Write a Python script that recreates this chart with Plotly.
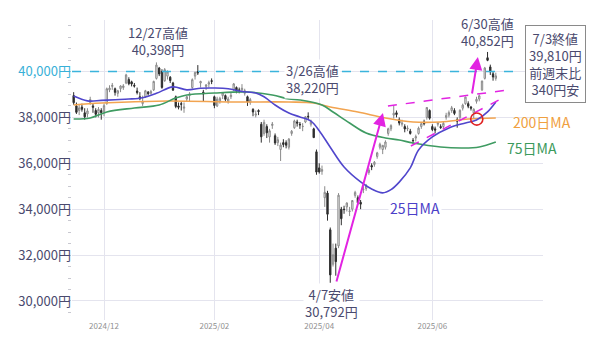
import pandas as pd
import plotly.graph_objects as go

# ---------------- data ----------------
holidays = ["2024-12-31", "2025-01-01", "2025-01-02", "2025-01-03", "2025-01-13",
            "2025-02-11", "2025-02-24", "2025-03-20", "2025-04-29", "2025-05-05", "2025-05-06"]
dates = [d.strftime("%Y-%m-%d") for d in pd.bdate_range("2024-11-15", "2025-07-03")
         if d.strftime("%Y-%m-%d") not in holidays]

opens = [
    # Nov
    38950, 38500, 38300, 38450, 38200, 38150, 38650, 38500, 38300, 38200, 38300,
    # Dec
    38250, 38600, 39200, 39350, 39250, 39050, 39250, 39300, 39500, 39650, 39550, 39400, 39150, 38900, 38600,
    38900, 39100, 39050, 39200, 39700, 40150,
    # Jan
    40000, 39600, 39800, 39750, 39500, 38900, 38500, 38600, 38400, 38800, 38950, 39300, 39800, 40000, 39500,
    39100, 39350, 39450, 39600,
    # Feb
    38900, 38500, 38700, 38950, 38950, 38700, 38900, 39200, 39300, 39200, 39200, 39050, 38900, 38650, 38350,
    38100, 38300, 37700,
    # Mar
    37300, 37600, 37150, 37650, 37200, 36900, 36600, 36900, 36900, 36700, 37300, 37550, 37800, 37700, 37600,
    37800, 38050, 37700, 37500, 36500,
    # Apr
    35800, 35650, 34500, 34700, 33100, 31600, 32300, 32400, 34000, 34000, 34100, 33900, 34000, 34600, 34500,
    34300, 34850, 34900, 35600, 35900, 35950,
    # May
    36300, 36700, 36600, 36700, 37300, 37500, 38100, 38200, 37900, 37700, 37600, 37500, 37400, 37000, 37100,
    37300, 37600, 37800, 38000, 38300,
    # Jun
    37600, 37500, 37700, 37600, 37600, 38000, 38100, 38300, 38300, 37900, 38000, 38400, 38600, 38600, 38450,
    38200, 38700, 38800, 39200, 39700, 40600,
    # Jul
    40200, 39900, 39700,
]
highs = [
    39100, 38650, 38550, 38600, 38400, 38400, 38900, 38600, 38400, 38450, 38400,
    38600, 39300, 39400, 39500, 39300, 39200, 39400, 39450, 39900, 39750, 39600, 39500, 39300, 39100, 38950,
    39200, 39150, 39200, 39600, 40398, 40200,
    40100, 40150, 40050, 39800, 39550, 38950, 38650, 38700, 38650, 38950, 39100, 39700, 40000, 40280, 39600,
    39200, 39450, 39600, 39700,
    38950, 38900, 38900, 39100, 39000, 38900, 39100, 39500, 39350, 39300, 39450, 39250, 38950, 38850, 38400,
    38300, 38350, 37800,
    37900, 37700, 37500, 37800, 37300, 37150, 36900, 37050, 37000, 37100, 37450, 37900, 37900, 37800, 37750,
    38050, 38220, 37900, 37550, 36600,
    36000, 35900, 35000, 34800, 33200, 32500, 32500, 34700, 34100, 34150, 34300, 34100, 34400, 34800, 34600,
    34400, 35000, 35100, 35800, 36000, 36100,
    36500, 36900, 36800, 37000, 37550, 37700, 38500, 38300, 38000, 37900, 37700, 37650, 37500, 37100, 37250,
    37600, 37800, 37900, 38450, 38350,
    37700, 37600, 37800, 37700, 37800, 38200, 38300, 38500, 38400, 38000, 38350, 38600, 38900, 38700, 38500,
    38400, 38900, 39000, 39600, 40200, 40852,
    40300, 40000, 39950,
]
lows = [
    38550, 38150, 38100, 38250, 37900, 38000, 38550, 38200, 38000, 38000, 37900,
    38050, 38550, 39100, 39200, 38950, 38900, 39100, 39200, 39450, 39400, 39350, 39300, 39000, 38750, 38500,
    38850, 38950, 39000, 39150, 39650, 39800,
    39250, 39550, 39650, 39500, 39150, 38400, 38350, 38300, 38200, 38700, 38700, 39250, 39650, 39850, 39300,
    38700, 39200, 39300, 39450,
    38400, 38450, 38600, 38800, 38700, 38600, 38800, 39150, 39050, 39050, 39100, 38950, 38500, 38550, 38050,
    38000, 38100, 36900,
    37200, 37100, 36900, 37500, 36800, 36750, 36100, 36700, 36650, 36600, 37200, 37500, 37600, 37500, 37400,
    37750, 37900, 37600, 37100, 35500,
    35550, 35500, 34100, 33500, 30792, 31500, 31100, 32300, 33300, 33800, 33900, 33700, 33900, 34500, 34200,
    34000, 34700, 34800, 35500, 35700, 35850,
    36200, 36600, 36400, 36600, 37200, 37400, 37950, 38000, 37650, 37600, 37350, 37400, 37250, 36850, 36950,
    37250, 37500, 37650, 37900, 37900,
    37400, 37300, 37600, 37500, 37500, 37900, 38000, 38200, 38100, 37550, 37900, 38300, 38550, 38400, 38300,
    37950, 38600, 38700, 39150, 39650, 40450,
    39850, 39600, 39600,
]
closes = [
    38642, 38220, 38414, 38352, 38026, 38283, 38780, 38442, 38134, 38349, 38208,
    38513, 39248, 39276, 39395, 39091, 39160, 39367, 39372, 39849, 39470, 39457, 39364, 39081, 38813, 38701,
    39161, 39036, 39130, 39568, 40281, 39894,
    39307, 40083, 39981, 39605, 39190, 38474, 38444, 38572, 38451, 38902, 39027, 39646, 39958, 39931, 39565,
    39016, 39414, 39513, 39572,
    38520, 38798, 38831, 39066, 38787, 38801, 38963, 39461, 39149, 39174, 39270, 39164, 38678, 38776, 38237,
    38142, 38256, 37155,
    37785, 37331, 37418, 37704, 36887, 37028, 36793, 36819, 36790, 37053, 37396, 37845, 37751, 37677, 37608,
    38027, 38027, 37799, 37120, 35617,
    35624, 35725, 34735, 33780, 31136, 32013, 31714, 34609, 33586, 33982, 34267, 33920, 34377, 34730, 34280,
    34220, 34868, 35039, 35705, 35839, 36045,
    36452, 36831, 36780, 36928, 37503, 37644, 38183, 38128, 37755, 37753, 37498, 37529, 37299, 36985, 37160,
    37532, 37724, 37722, 38432, 37965,
    37470, 37446, 37747, 37554, 37741, 38088, 38211, 38421, 38173, 37834, 38311, 38536, 38885, 38488, 38403,
    38354, 38790, 38942, 39584, 40150, 40487,
    39986, 39762, 39810,
]

ma25_dates = ["2024-11-15", "2024-11-22", "2024-11-29", "2024-12-06", "2024-12-13", "2024-12-20", "2024-12-27",
              "2025-01-10", "2025-01-20", "2025-01-27", "2025-02-03", "2025-02-10", "2025-02-18", "2025-02-26",
              "2025-03-03", "2025-03-07", "2025-03-14", "2025-03-21", "2025-03-27", "2025-04-01", "2025-04-07",
              "2025-04-14", "2025-04-22", "2025-04-28", "2025-05-07", "2025-05-12", "2025-05-15", "2025-05-21",
              "2025-05-26", "2025-06-02", "2025-06-10", "2025-06-18", "2025-06-24", "2025-06-30", "2025-07-03"]
ma25_vals = [38930, 38720, 38740, 38770, 38800, 38860, 39050,
             39330, 39200, 39270, 39280, 39250, 39130, 39060,
             38900, 38540, 38190, 38020, 37840, 37420, 36700,
             35840, 35190, 34880, 34710, 34850, 35180, 35800,
             36580, 37150, 37540, 37760, 37890, 38240, 38670]

ma75_dates = ["2024-11-15", "2024-11-25", "2024-12-03", "2024-12-17", "2024-12-30", "2025-01-14", "2025-01-20",
              "2025-02-03", "2025-02-20", "2025-03-06", "2025-03-14", "2025-03-21", "2025-04-02", "2025-04-08",
              "2025-04-16", "2025-04-24", "2025-05-08", "2025-05-15", "2025-05-22", "2025-06-05", "2025-06-17",
              "2025-06-25", "2025-07-03"]
ma75_vals = [37930, 37975, 38235, 38410, 38540, 38845, 38976,
             39063, 39107, 38976, 38802, 38758, 38540, 38235,
             37756, 37320, 37103, 37015, 36885, 36710, 36667,
             36710, 36928]

ma200_dates = ["2024-11-15", "2024-11-29", "2025-01-08", "2025-02-13", "2025-03-14", "2025-03-28", "2025-04-07",
               "2025-04-21", "2025-05-08", "2025-05-22", "2025-06-05", "2025-06-19", "2025-07-03"]
ma200_vals = [38540, 38627, 38715, 38671, 38671, 38627, 38453,
              38235, 37974, 37800, 37800, 37930, 37974]

ytick_vals = [30000, 32000, 34000, 36000, 38000, 40000]
ytick_text = ["30,000円", "32,000円", "34,000円", "36,000円", "38,000円",
              "<span style='color:#38b0d8'>40,000円</span>"]
xtick_vals = ["2024-12-02", "2025-02-03", "2025-04-01", "2025-06-02"]
xtick_text = ["2024/12", "2025/02", "2025/04", "2025/06"]

assert len(dates) == len(opens) == len(highs) == len(lows) == len(closes)

# ---------------- figure ----------------
FONT = "Noto Sans CJK JP"
TXT = "#4a4a6e"
MAG = "#e223e2"

fig = go.Figure()
fig.add_trace(go.Candlestick(
    x=dates, open=opens, high=highs, low=lows, close=closes,
    increasing=dict(fillcolor="white", line=dict(color="#8a8a8a", width=1)),
    decreasing=dict(fillcolor="#2e2e2e", line=dict(color="#2e2e2e", width=1)),
    whiskerwidth=0, showlegend=False, hoverinfo="skip"))
fig.add_trace(go.Scatter(x=ma200_dates, y=ma200_vals, mode="lines",
                         line=dict(color="#f2a450", width=1.6, shape="spline", smoothing=1.0),
                         showlegend=False, hoverinfo="skip"))
fig.add_trace(go.Scatter(x=ma75_dates, y=ma75_vals, mode="lines",
                         line=dict(color="#3f9b62", width=1.6, shape="spline", smoothing=1.0),
                         showlegend=False, hoverinfo="skip"))
fig.add_trace(go.Scatter(x=ma25_dates, y=ma25_vals, mode="lines",
                         line=dict(color="#5046cc", width=1.6, shape="spline", smoothing=1.0),
                         showlegend=False, hoverinfo="skip"))

shapes = [
    dict(type="line", xref="paper", yref="y", x0=0, x1=0.94, y0=40000, y1=40000,
         line=dict(color="#3ab4dc", width=1.5, dash="dash"), layer="above"),
    dict(type="line", xref="x", yref="y", x0=113.9, y0=38497, x1=157.4, y1=39194,
         line=dict(color=MAG, width=1.5, dash="dash"), layer="above"),
    dict(type="line", xref="x", yref="y", x0=122.2, y0=36754, x1=154.1, y1=38758,
         line=dict(color=MAG, width=1.5, dash="dash"), layer="above"),
    dict(type="circle", xref="x", yref="y", x0=146.1 - 2.2, x1=146.1 + 2.2, y0=37930 - 265, y1=37930 + 265,
         line=dict(color="#e02222", width=1.6), layer="above"),
]

ann = []
def label(x, y, text, color=TXT, size=13, bg="rgba(255,255,255,0)"):
    ann.append(dict(x=x, y=y, xref="x", yref="y", text=text, showarrow=False,
                    xanchor="center", yanchor="middle",
                    font=dict(family=FONT, size=size, color=color), bgcolor=bg,
                    align="center"))

label(30.6, 41351, "12/27高値<br>40,398円")
label(86.4, 39673, "3/26高値<br>38,220円", bg="white")
label(150.1, 41721, "6/30高値<br>40,852円")
label(93.6, 29900, "4/7安値<br>30,792円", bg="white")
label(169.7, 37800, "200日MA", color="#f0a040", size=14)
label(166.1, 36667, "75日MA", color="#3c9a5c", size=14)
label(123.7, 34053, "25日MA", color="#4b40c8", size=14, bg="white")

ann.append(dict(xref="paper", yref="paper", x=1.0265, y=0.853, xanchor="center", yanchor="middle",
                text="7/3終値<br>39,810円<br>前週末比<br>340円安", showarrow=False,
                font=dict(family=FONT, size=13, color=TXT), align="center",
                bordercolor="#8a8a8a", borderwidth=1, borderpad=3, bgcolor="white"))

for tip, tail in [((112.1, 38192), (95.1, 30785)), ((146.5, 40632), (144.3, 38976))]:
    ann.append(dict(x=tip[0], y=tip[1], ax=tail[0], ay=tail[1], xref="x", yref="y",
                    axref="x", ayref="y", text="", showarrow=True, arrowhead=2,
                    arrowsize=1.3, arrowwidth=2, arrowcolor=MAG, standoff=0, startstandoff=0))

fig.update_layout(
    width=600, height=343,
    margin=dict(l=72, r=57, t=20, b=23),
    paper_bgcolor="white", plot_bgcolor="white",
    font=dict(family=FONT, color=TXT),
    shapes=shapes, annotations=ann,
    xaxis=dict(type="category", categoryorder="array", categoryarray=dates,
               range=[-0.6, 170.1], rangeslider=dict(visible=False),
               tickmode="array", tickvals=xtick_vals, ticktext=xtick_text,
               tickfont=dict(size=8, color="#909090"), showgrid=True, gridcolor="#e4e4ee",
               gridwidth=1, zeroline=False, showline=False, ticks=""),
    yaxis=dict(range=[29170, 42245], tickmode="array", tickvals=ytick_vals, ticktext=ytick_text,
               tickfont=dict(size=13, color=TXT), showgrid=True, gridcolor="#e4e4ee",
               zeroline=False, showline=False, ticks="",
               minor=dict(dtick=500, tick0=0, ticks="outside", ticklen=3, tickcolor="#c8c8d0",
                          showgrid=False)),
)

fig.write_html("out.html")
